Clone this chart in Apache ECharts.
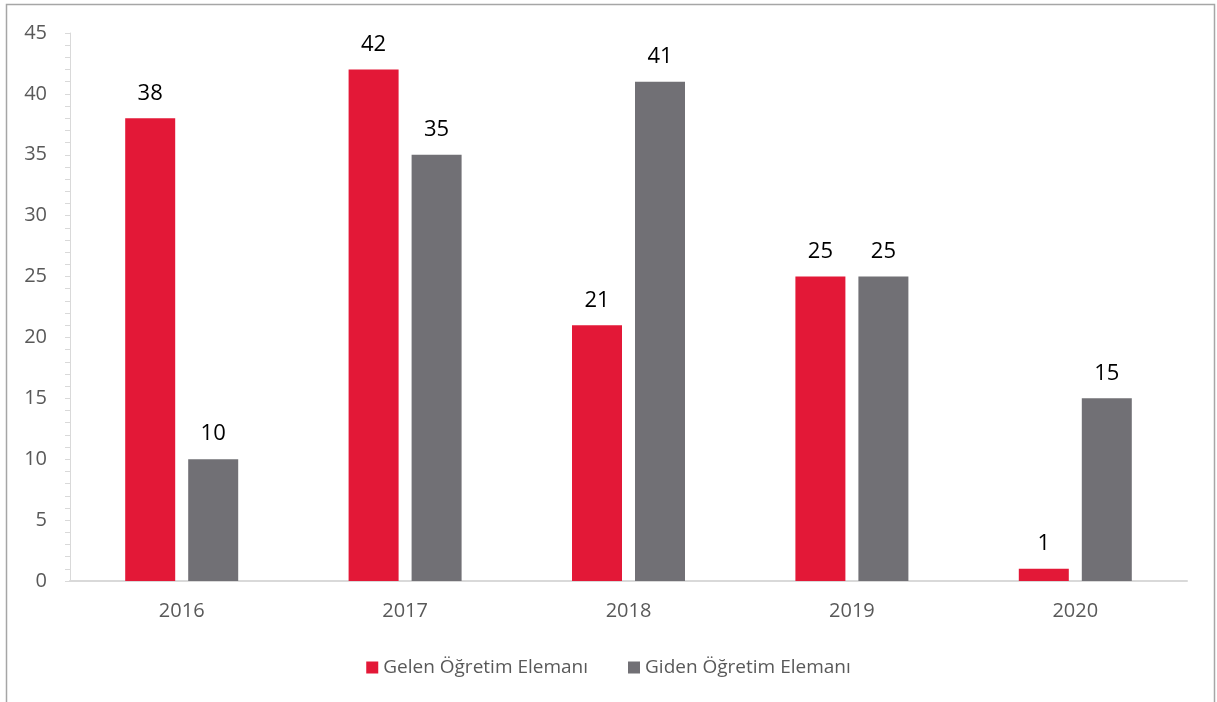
<!DOCTYPE html>
<html><head><meta charset="utf-8">
<script src="https://cdn.jsdelivr.net/npm/echarts@6/dist/echarts.min.js"></script>
<style>html,body{margin:0;padding:0;background:#fff}#c{width:1217px;height:702px}</style>
</head><body><div id="c"></div>
<script>
const categories = ['2016','2017','2018','2019','2020'];
const gelen = [38, 42, 21, 25, 1];
const giden = [10, 35, 41, 25, 15];
const seriesNames = ['Gelen Öğretim Elemanı', 'Giden Öğretim Elemanı'];
const yTicks = {min: 0, max: 45, interval: 5};

const chart = echarts.init(document.getElementById('c'));
const font = '"Open Sans", sans-serif';
const label = {show: true, position: 'top', distance: 14, color: '#000', fontSize: 22, fontFamily: font};
chart.setOption({
  animation: false,
  textStyle: {fontFamily: font},
  graphic: [{type: 'rect', shape: {x: 6.5, y: 4.5, width: 1208, height: 740}, style: {fill: 'none', stroke: '#a6a6a6', lineWidth: 1.5}, silent: true}],
  grid: {left: 70, right: 30, top: 33, bottom: 121},
  legend: {top: 653, left: 'center', itemWidth: 12, itemHeight: 12, itemGap: 40, icon: 'rect',
    textStyle: {color: '#595959', fontSize: 19, fontFamily: font}, data: seriesNames},
  xAxis: {type: 'category', data: categories,
    axisLine: {lineStyle: {color: '#d9d9d9', width: 2}}, axisTick: {show: false},
    axisLabel: {color: '#595959', fontSize: 20, margin: 20, fontFamily: font}},
  yAxis: {type: 'value', min: yTicks.min, max: yTicks.max, interval: yTicks.interval,
    axisLine: {show: true, lineStyle: {color: '#d9d9d9', width: 1}},
    axisTick: {show: true, length: 5, lineStyle: {color: '#d9d9d9'}},
    minorTick: {show: true, splitNumber: 5, length: 5, lineStyle: {color: '#d9d9d9'}},
    splitLine: {show: false},
    axisLabel: {color: '#595959', fontSize: 20, margin: 23, fontFamily: font}},
  series: [
    {name: seriesNames[0], type: 'bar', data: gelen, barWidth: 50, barGap: '26%', itemStyle: {color: '#E31837'}, label},
    {name: seriesNames[1], type: 'bar', data: giden, barWidth: 50, itemStyle: {color: '#717075'}, label}
  ]
});
</script></body></html>
